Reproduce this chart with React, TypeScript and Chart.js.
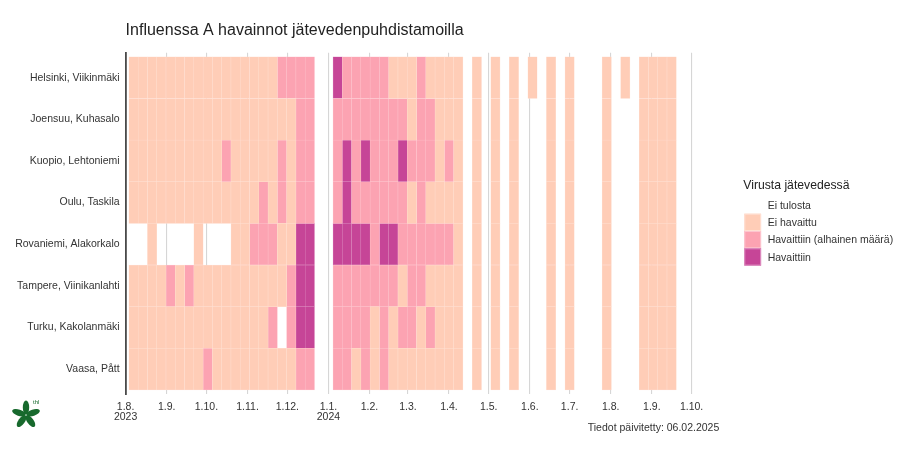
import { useEffect, useRef } from "react";
import { Chart, registerables } from "chart.js";
Chart.register(...registerables);

const sites = [
  "Helsinki, Viikinmäki",
  "Joensuu, Kuhasalo",
  "Kuopio, Lehtoniemi",
  "Oulu, Taskila",
  "Rovaniemi, Alakorkalo",
  "Tampere, Viinikanlahti",
  "Turku, Kakolanmäki",
  "Vaasa, Pått",
];

const weeks = [
  "2023-08-07", "2023-08-14", "2023-08-21", "2023-08-28", "2023-09-04", "2023-09-11", "2023-09-18",
  "2023-09-25", "2023-10-02", "2023-10-09", "2023-10-16", "2023-10-23", "2023-10-30", "2023-11-06",
  "2023-11-13", "2023-11-20", "2023-11-27", "2023-12-04", "2023-12-11", "2023-12-18",
  "2024-01-08", "2024-01-15", "2024-01-22", "2024-01-29", "2024-02-05", "2024-02-12", "2024-02-19",
  "2024-02-26", "2024-03-04", "2024-03-11", "2024-03-18", "2024-03-25", "2024-04-01", "2024-04-08",
  "2024-04-22", "2024-05-06", "2024-05-20", "2024-06-03", "2024-06-17", "2024-07-01", "2024-07-29",
  "2024-08-12", "2024-08-26", "2024-09-02", "2024-09-09", "2024-09-16",
];

// 0 = Ei tulosta, 1 = Ei havaittu, 2 = Havaittiin (alhainen määrä), 3 = Havaittiin
const helsinki = [1,1,1,1,1,1,1,1,1,1,1,1,1,1,1,1,2,2,2,2, 3,2,2,2,2,2,1,1,1,2,1,1,1,1, 1,1,1,1,1,1,1,1,1,1,1,1];
const joensuu = [1,1,1,1,1,1,1,1,1,1,1,1,1,1,1,1,1,1,2,2, 2,2,2,2,2,2,2,2,1,2,2,1,1,1, 1,1,1,0,1,1,1,0,1,1,1,1];
const kuopio = [1,1,1,1,1,1,1,1,1,1,2,1,1,1,1,1,2,1,2,2, 2,3,2,3,2,2,2,3,2,2,2,1,2,1, 1,1,1,0,1,1,1,0,1,1,1,1];
const oulu = [1,1,1,1,1,1,1,1,1,1,1,1,1,1,2,1,2,1,2,2, 2,3,2,2,2,2,2,2,1,2,1,1,1,1, 1,1,1,0,1,1,1,0,1,1,1,1];
const rovaniemi = [0,0,1,0,0,0,0,1,0,0,0,1,1,2,2,2,1,1,3,3, 3,3,3,3,2,3,3,2,2,2,2,2,2,1, 1,1,1,0,1,1,1,0,1,1,1,1];
const tampere = [1,1,1,1,2,1,2,1,1,1,1,1,1,1,1,1,1,2,3,3, 2,2,2,2,2,2,2,1,2,2,1,1,1,1, 1,1,1,0,1,1,1,0,1,1,1,1];
const turku = [1,1,1,1,1,1,1,1,1,1,1,1,1,1,1,2,0,2,3,3, 2,2,2,2,1,2,1,2,2,1,2,1,1,1, 1,1,1,0,1,1,1,0,1,1,1,1];
const vaasa = [1,1,1,1,1,1,1,1,2,1,1,1,1,1,1,1,1,1,2,2, 2,2,1,2,1,2,1,1,1,1,1,1,1,1, 1,1,1,0,1,1,1,0,1,1,1,1];
const statusBySite = [helsinki, joensuu, kuopio, oulu, rovaniemi, tampere, turku, vaasa];

const statusLabels = ["Ei tulosta", "Ei havaittu", "Havaittiin (alhainen määrä)", "Havaittiin"];
const statusColors = ["rgba(255,255,255,0)", "#FFCDB7", "#FCA3B2", "#C64597"];
const statusBorders = ["rgba(255,255,255,0)", "#FFE0D3", "#FDC6CF", "#DD8EC0"];

const tickDates = [
  "2023-08-01", "2023-09-01", "2023-10-01", "2023-11-01", "2023-12-01", "2024-01-01", "2024-02-01",
  "2024-03-01", "2024-04-01", "2024-05-01", "2024-06-01", "2024-07-01", "2024-08-01", "2024-09-01", "2024-10-01",
];
const tickLabels: (string | string[])[] = [
  ["1.8.", "2023"], "1.9.", "1.10.", "1.11.", "1.12.", ["1.1.", "2024"], "1.2.",
  "1.3.", "1.4.", "1.5.", "1.6.", "1.7.", "1.8.", "1.9.", "1.10.",
];

const titleText = "Influenssa A havainnot jätevedenpuhdistamoilla";
const legendTitle = "Virusta jätevedessä";
const captionText = "Tiedot päivitetty: 06.02.2025";

const ORIGIN = Date.UTC(2023, 7, 1);
function dayOf(s: string): number {
  const [y, m, d] = s.split("-").map(Number);
  return (Date.UTC(y, m - 1, d) - ORIGIN) / 86400000;
}

const FONT = "'Liberation Sans', Arial, sans-serif";

const decorPlugin = {
  id: "decor",
  afterDraw(chart: any) {
    const ctx = chart.ctx as CanvasRenderingContext2D;
    const area = chart.chartArea;
    ctx.save();
    // title
    ctx.fillStyle = "#222";
    ctx.font = `16px ${FONT}`;
    ctx.textAlign = "left";
    ctx.textBaseline = "alphabetic";
    ctx.fillText(titleText, area.left, 26.8);

    // legend
    ctx.font = `12.2px ${FONT}`;
    ctx.fillStyle = "#222";
    ctx.fillText(legendTitle, 735.3, 181.4);
    const keyX = 736.3, keyW = 16.8, keyH = 17.3, keyTop = 188.4;
    ctx.font = `10.5px ${FONT}`;
    statusLabels.forEach((lab, i) => {
      const top = keyTop + i * keyH;
      if (i > 0) {
        ctx.fillStyle = statusColors[i];
        ctx.fillRect(keyX, top, keyW, keyH);
        ctx.strokeStyle = statusBorders[i];
        ctx.lineWidth = 1;
        ctx.strokeRect(keyX + 0.5, top + 0.5, keyW - 1, keyH - 1);
      }
      ctx.fillStyle = "#333";
      ctx.fillText(lab, 759.7, top + keyH / 2 + 3.8);
    });

    // caption
    ctx.textAlign = "right";
    ctx.fillStyle = "#333";
    ctx.fillText(captionText, 711.3, 422.5);

    // logo
    const cx = 18, cy = 407;
    ctx.fillStyle = "#17692D";
    for (let k = 0; k < 5; k++) {
      const a = (-90 + 72 * k) * Math.PI / 180;
      ctx.beginPath();
      ctx.ellipse(cx + Math.cos(a) * 7.5, cy + Math.sin(a) * 7.5, 7, 3.2, a, 0, Math.PI * 2);
      ctx.fill();
    }
    ctx.font = `6px ${FONT}`;
    ctx.textAlign = "left";
    ctx.fillText("thl", 25, 396);
    ctx.restore();
  },
};

export default function App() {
  const ref = useRef<HTMLCanvasElement>(null);
  useEffect(() => {
    const datasets = statusLabels.map((label, c) => {
      const data: { x: number[]; y: number }[] = [];
      statusBySite.forEach((row, s) => {
        row.forEach((v, w) => {
          if (v === c) {
            const d = dayOf(weeks[w]);
            data.push({ x: [d - 3.5, d + 3.5], y: s });
          }
        });
      });
      return {
        label,
        data,
        backgroundColor: statusColors[c],
        borderColor: statusBorders[c],
        borderWidth: 0.5,
        borderSkipped: false,
        grouped: false,
        barPercentage: 1,
        categoryPercentage: 1,
      };
    });
    const tickDays = tickDates.map(dayOf);
    const chart = new Chart(ref.current!, {
      type: "bar",
      data: { datasets: datasets as any },
      options: {
        indexAxis: "y",
        animation: false,
        responsive: false,
        layout: { padding: { left: 0, right: 203.2, top: 44.7, bottom: 18 } },
        plugins: {
          legend: { display: false },
          title: { display: false },
          tooltip: { enabled: false },
        },
        scales: {
          x: {
            type: "linear",
            offset: false,
            min: 0,
            max: 440,
            afterBuildTicks: (scale: any) => {
              scale.ticks = tickDays.map((value) => ({ value }));
            },
            afterFit: (scale: any) => {
              scale.height = 30;
            },
            ticks: {
              autoSkip: false,
              maxRotation: 0,
              padding: 7.5,
              color: "#333",
              font: { size: 10.5, family: FONT, lineHeight: 1.0 },
              callback: (_v: any, i: number) => tickLabels[i],
            },
            grid: { color: "#D6D6D6", lineWidth: 1.1, drawTicks: false, offset: false },
            border: { display: false },
          },
          y: {
            type: "linear",
            offset: false,
            reverse: true,
            min: -0.6,
            max: 7.6,
            afterBuildTicks: (scale: any) => {
              scale.ticks = sites.map((_s, i) => ({ value: i }));
            },
            afterFit: (scale: any) => {
              scale.width = 117.6;
            },
            ticks: {
              autoSkip: false,
              padding: 6,
              color: "#333",
              font: { size: 10.5, family: FONT },
              callback: (v: any) => sites[Math.round(Number(v))],
            },
            grid: { display: false, drawTicks: false, offset: false },
            border: { display: true, color: "#4A4A4A", width: 1.8 },
          },
        },
      } as any,
      plugins: [decorPlugin],
    });
    return () => chart.destroy();
  }, []);
  return (
    <div style={{ width: 904, height: 434 }}>
      <canvas ref={ref} width={904} height={434} style={{ display: "block" }} />
    </div>
  );
}
